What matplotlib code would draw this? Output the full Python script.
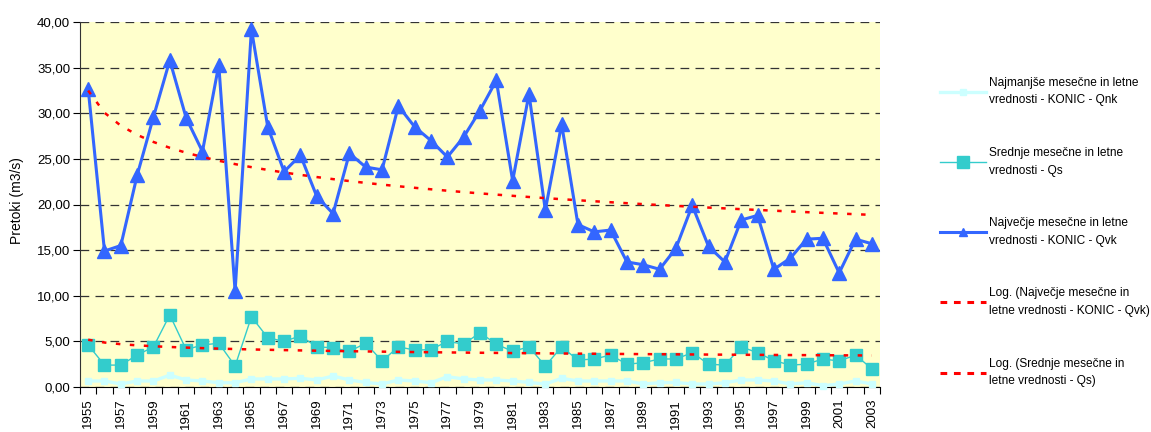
import matplotlib
matplotlib.use('Agg')
import matplotlib.pyplot as plt
from matplotlib.lines import Line2D
from matplotlib.ticker import FixedLocator, FuncFormatter
import numpy as np

plt.rcParams['font.family'] = ['Liberation Sans', 'DejaVu Sans']

years = list(range(1955, 2004))

# Najmanjse mesecne in letne vrednosti - KONIC - Qnk
qnk = [0.66, 0.66, 0.33, 0.66, 0.66, 1.30, 0.77, 0.66, 0.47, 0.47,
       0.88, 0.88, 0.88, 0.95, 0.77, 1.20, 0.77, 0.50, 0.33, 0.77,
       0.66, 0.47, 1.13, 0.88, 0.77, 0.77, 0.66, 0.50, 0.33, 0.95,
       0.66, 0.66, 0.66, 0.66, 0.33, 0.47, 0.50, 0.33, 0.33, 0.47,
       0.77, 0.77, 0.66, 0.33, 0.47, 0.15, 0.33, 0.66, 0.33]

# Srednje mesecne in letne vrednosti - Qs
qs = [4.6, 2.4, 2.4, 3.5, 4.4, 7.9, 4.1, 4.6, 4.8, 2.3,
      7.7, 5.4, 5.0, 5.6, 4.4, 4.3, 3.9, 4.8, 2.85, 4.4,
      4.05, 4.1, 5.0, 4.7, 5.95, 4.7, 3.9, 4.4, 2.3, 4.4,
      2.95, 3.07, 3.5, 2.5, 2.66, 3.07, 3.07, 3.76, 2.5, 2.4,
      4.4, 3.76, 2.9, 2.4, 2.5, 3.07, 2.85, 3.5, 2.0]

# Najvecje mesecne in letne vrednosti - KONIC - Qvk
qvk = [32.7, 14.9, 15.5, 23.2, 29.6, 35.8, 29.5, 25.8, 35.3, 10.5,
       39.2, 28.5, 23.6, 25.4, 20.9, 19.0, 25.6, 24.1, 23.8, 30.8,
       28.5, 27.0, 25.2, 27.4, 30.3, 33.6, 22.6, 32.1, 19.4, 28.8,
       17.8, 17.0, 17.2, 13.7, 13.4, 12.9, 15.2, 19.9, 15.4, 13.7,
       18.3, 18.8, 12.9, 14.1, 16.2, 16.3, 12.5, 16.2, 15.7]

labels = [
    'Najmanjše mesečne in letne\nvrednosti - KONIC - Qnk',
    'Srednje mesečne in letne\nvrednosti - Qs',
    'Največje mesečne in letne\nvrednosti - KONIC - Qvk',
    'Log. (Največje mesečne in\nletne vrednosti - KONIC - Qvk)',
    'Log. (Srednje mesečne in\nletne vrednosti - Qs)',
]

C_QNK = '#CCFFFF'
C_QS = '#33CCCC'
C_QVK = '#3366FF'
C_TREND = '#FF0000'
TREND_DASH = (1.8, 3.8)


def log_trend(values):
    # Excel-style logarithmic trendline: y = a*ln(x) + b, x = 1..n
    x = np.arange(1, len(values) + 1)
    a, b = np.polyfit(np.log(x), np.asarray(values, dtype=float), 1)
    return a * np.log(x) + b


fig = plt.figure(figsize=(11.51, 4.32), dpi=100)
ax = fig.add_axes([80 / 1151, 1 - 387 / 432, 800 / 1151, 365 / 432])
ax.set_facecolor('#FFFFCC')

xs = np.arange(len(years))

ax.plot(xs, qnk, color=C_QNK, linewidth=2.4, marker='s', markersize=5,
        zorder=3, clip_on=False)
ax.plot(xs, qs, color=C_QS, linewidth=1.0, marker='s', markersize=8.5,
        zorder=3, clip_on=False)
ax.plot(xs, qvk, color=C_QVK, linewidth=2.2, marker='^', markersize=9.5,
        zorder=4, clip_on=False)
ax.plot(xs, log_trend(qvk), color=C_TREND, linewidth=1.8,
        dashes=TREND_DASH, zorder=5)
ax.plot(xs, log_trend(qs), color=C_TREND, linewidth=1.8,
        dashes=TREND_DASH, zorder=5)

ax.set_xlim(-0.5, len(years) - 0.5)
ax.set_ylim(0, 40)

ax.yaxis.set_major_locator(FixedLocator(np.arange(0, 41, 5)))
ax.yaxis.set_major_formatter(FuncFormatter(lambda v, p: f'{v:.2f}'.replace('.', ',')))
ax.grid(axis='y', color='#333333', linestyle=(0, (7, 5)), linewidth=0.9, zorder=1)
ax.set_axisbelow(True)

ax.set_xticks(np.arange(-0.5, len(years), 1.0))
ax.set_xticklabels([])
ax.set_xticks(xs[::2], minor=True)
ax.set_xticklabels([str(y) for y in years[::2]], minor=True,
                   rotation=90, fontsize=9.5, va='top')
ax.tick_params(axis='x', which='major', direction='out', length=5, width=0.8)
ax.tick_params(axis='x', which='minor', length=0, pad=8.5)
ax.tick_params(axis='y', direction='out', length=5, width=0.8, labelsize=9.5, pad=2)

for side in ('top', 'right'):
    ax.spines[side].set_visible(False)
ax.spines['left'].set_color('#333333')
ax.spines['bottom'].set_color('#000000')

fig.text(17 / 1151, 1 - 201 / 432, 'Pretoki (m3/s)', rotation=90,
         fontsize=10, ha='center', va='center')

handles = [
    Line2D([], [], color=C_QNK, linewidth=2.4, marker='s', markersize=4.5),
    Line2D([], [], color=C_QS, linewidth=1.0, marker='s', markersize=8.5),
    Line2D([], [], color=C_QVK, linewidth=2.2, marker='^', markersize=6),
    Line2D([], [], color=C_TREND, linewidth=2.2, dashes=(2.2, 2.2)),
    Line2D([], [], color=C_TREND, linewidth=2.2, dashes=(2.2, 2.2)),
]
leg = fig.legend(handles, labels, loc='upper left',
                 bbox_to_anchor=(935 / 1151, 1 - 72 / 432),
                 frameon=False, fontsize=8.6, handlelength=3.9, handletextpad=0.2,
                 labelspacing=3.4, borderaxespad=0)
for t in leg.get_texts():
    t.set_linespacing(1.62)

fig.savefig('out.png', dpi=100)
